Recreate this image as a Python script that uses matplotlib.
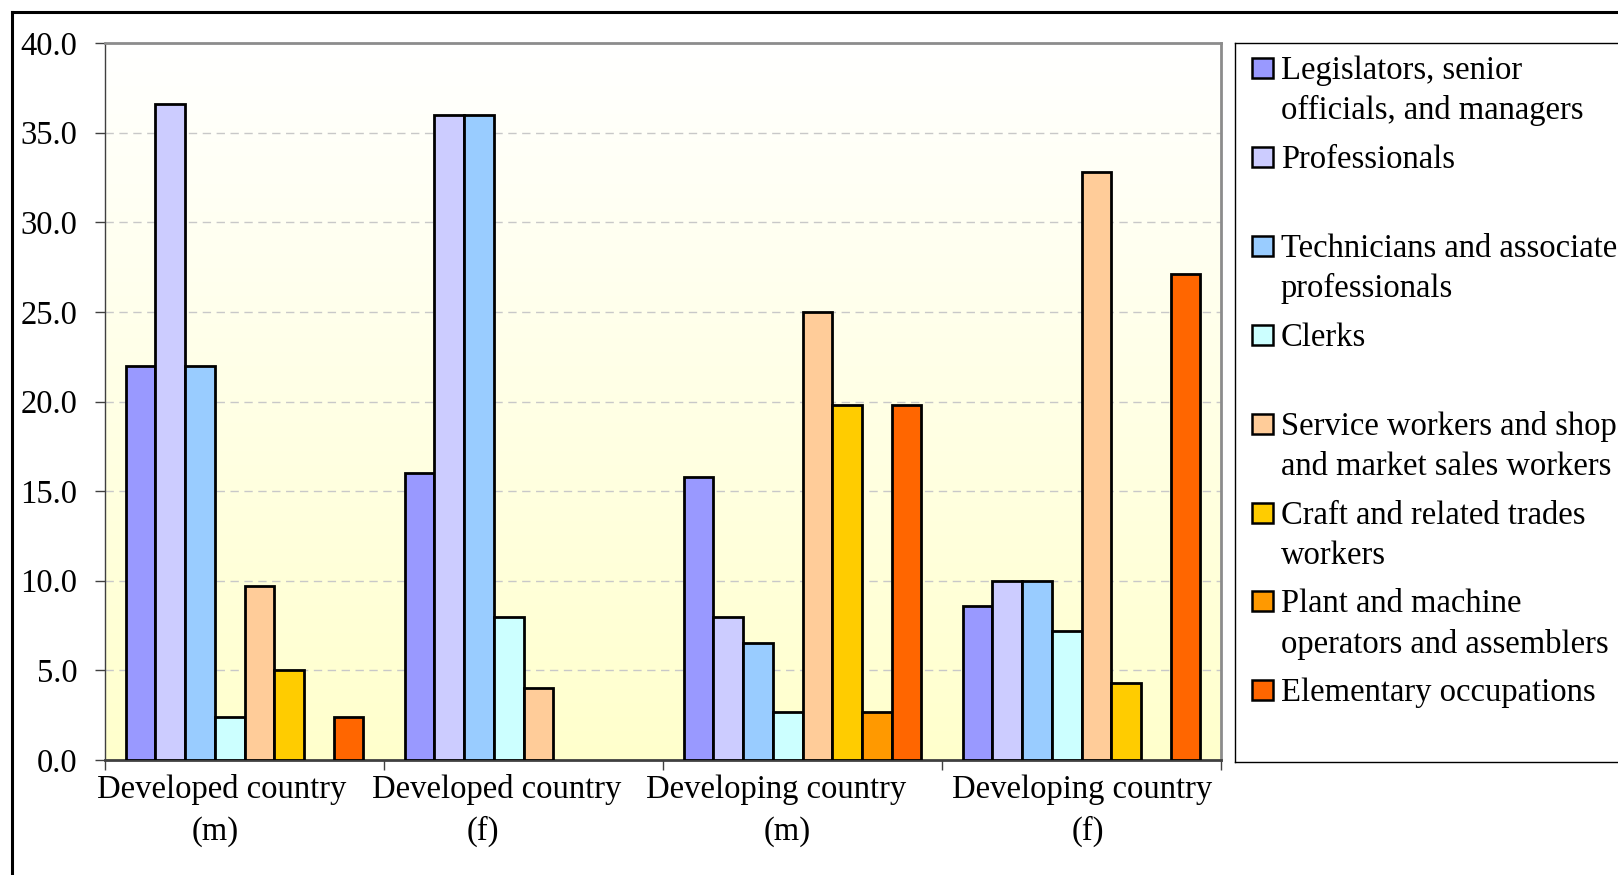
import numpy as np
import matplotlib
matplotlib.use("Agg")
import matplotlib.pyplot as plt
from matplotlib.patches import Rectangle
from matplotlib.lines import Line2D
from matplotlib.transforms import ScaledTranslation

# ---------------- data ----------------
category_names = ["Developed country", "Developed country",
                  "Developing country", "Developing country"]
category_sex = ["(m)", "(f)", "(m)", "(f)"]
legend_labels = [
    ["Legislators, senior", "officials, and managers"],
    ["Professionals"],
    ["Technicians and associate", "professionals"],
    ["Clerks"],
    ["Service workers and shop", "and market sales workers"],
    ["Craft and related trades", "workers"],
    ["Plant and machine", "operators and assemblers"],
    ["Elementary occupations"],
]
colors = ["#9999FF", "#CCCCFF", "#99CCFF", "#CCFFFF",
          "#FFCC99", "#FFCC00", "#FF9900", "#FF6600"]

legislators = [22.0, 16.0, 15.8, 8.6]
professionals = [36.6, 36.0, 8.0, 10.0]
technicians = [22.0, 36.0, 6.5, 10.0]
clerks = [2.4, 8.0, 2.7, 7.2]
service = [9.7, 4.0, 25.0, 32.8]
craft = [5.0, np.nan, 19.8, 4.3]
plant = [np.nan, np.nan, 2.7, np.nan]
elementary = [2.4, np.nan, 19.8, 27.1]
series = [legislators, professionals, technicians, clerks,
          service, craft, plant, elementary]

yticks = [0, 5, 10, 15, 20, 25, 30, 35, 40]
ytick_labels = ["0.0", "5.0", "10.0", "15.0", "20.0", "25.0", "30.0", "35.0", "40.0"]

# ---------------- figure ----------------
W, H = 1618, 875
fig = plt.figure(figsize=(W / 100, H / 100), dpi=100)
fig.patch.set_facecolor("white")
FONT = "Liberation Serif"
FS = 23.5

ax = fig.add_axes([105 / W, 1 - 760 / H, (1221 - 105) / W, (760 - 43) / H])

# gradient background
grad = np.linspace(0, 1, 256).reshape(-1, 1)
top = np.array([1.0, 1.0, 1.0])
bot = np.array([1.0, 1.0, 0.80])
img = top[None, None, :] * (1 - grad[:, :, None]) + bot[None, None, :] * grad[:, :, None]
ax.imshow(img, extent=[0, 1, 0, 1], transform=ax.transAxes, aspect="auto", zorder=0)

n_series = len(series)
group_frac = 0.852
bw = group_frac / n_series
for j, vals in enumerate(series):
    for i, v in enumerate(vals):
        if np.isnan(v):
            continue
        x = i + 0.5 + (j - (n_series - 1) / 2) * bw
        ax.bar(x, v, width=bw, color=colors[j], edgecolor="black",
               linewidth=2.0, zorder=3)

ncat = len(category_names)
ax.set_xlim(0, ncat)
ax.set_ylim(0, 40)

# grid
for yv in yticks[1:-1]:
    ax.axhline(yv, color="#C8C8C8", lw=1.0, ls=(0, (6, 4)), zorder=1)

ax.set_yticks(yticks)
ax.set_yticklabels(ytick_labels, fontfamily=FONT, fontsize=FS)
ax.tick_params(axis="y", direction="out", length=7, width=1, color="#404040", pad=13)

ax.set_xticks(range(ncat + 1))
ax.set_xticklabels([])
ax.tick_params(axis="x", which="major", direction="out", length=7, width=1, color="#404040")

# category labels (two lines, Excel-like placement; offsets in pixels)
line1_dx = [-23, -27, -26, 1]
line2_dx = [-29, -41, -15, 6]
xtr = ax.get_xaxis_transform()
for i in range(ncat):
    ax.text(i + 0.5, 0, category_names[i], fontfamily=FONT, fontsize=FS,
            ha="center", va="baseline",
            transform=xtr + ScaledTranslation(line1_dx[i] / 100, -38 / 100, fig.dpi_scale_trans))
    ax.text(i + 0.5, 0, category_sex[i], fontfamily=FONT, fontsize=FS,
            ha="center", va="baseline",
            transform=xtr + ScaledTranslation(line2_dx[i] / 100, -80 / 100, fig.dpi_scale_trans))

for s in ["top", "right"]:
    ax.spines[s].set_color("#8C8C8C")
    ax.spines[s].set_linewidth(2)
ax.spines["left"].set_color("#404040")
ax.spines["left"].set_linewidth(1)
ax.spines["bottom"].set_color("#404040")
ax.spines["bottom"].set_linewidth(2)

# outer frame (left and top visible)
fig.add_artist(Line2D([12 / W, 12 / W], [0, 1 - 12 / H], color="black", lw=2.2,
                      transform=fig.transFigure))
fig.add_artist(Line2D([12 / W, 1], [1 - 12 / H, 1 - 12 / H], color="black", lw=2.2,
                      transform=fig.transFigure))

# legend box
lx = 1235
fig.add_artist(Line2D([lx / W, lx / W], [1 - 43 / H, 1 - 762 / H], color="black", lw=1,
                      transform=fig.transFigure))
fig.add_artist(Line2D([lx / W, 1], [1 - 43 / H, 1 - 43 / H], color="black", lw=1,
                      transform=fig.transFigure))
fig.add_artist(Line2D([lx / W, 1], [1 - 762 / H, 1 - 762 / H], color="black", lw=1,
                      transform=fig.transFigure))

slot = 88.9
lsp = 40.2
for k, lines in enumerate(legend_labels):
    base = 79 + k * slot
    fig.add_artist(Rectangle((1252 / W, 1 - (base - 1) / H), 21 / W, 20 / H,
                             facecolor=colors[k], edgecolor="black", lw=1.8,
                             transform=fig.transFigure))
    for l, t in enumerate(lines):
        fig.text(1281 / W, 1 - (base + l * lsp) / H, t, fontfamily=FONT,
                 fontsize=FS, ha="left", va="baseline")

fig.savefig("out.png", dpi=100)
